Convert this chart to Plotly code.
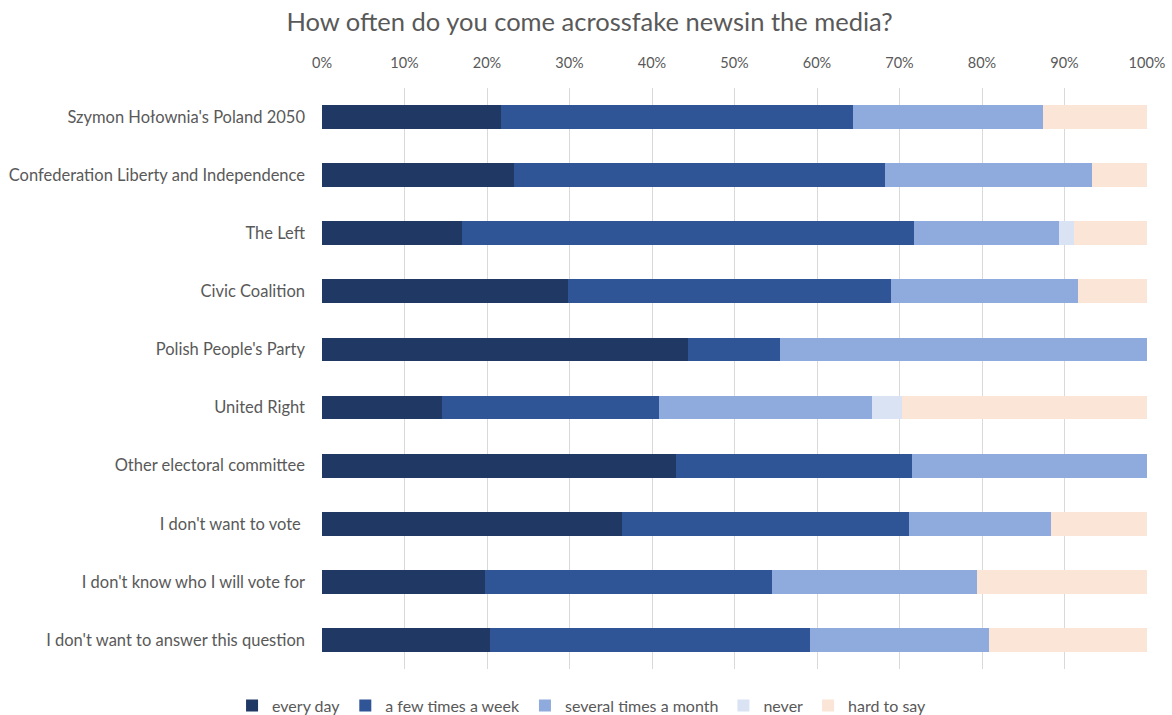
import plotly.graph_objects as go

categories = [
    "Szymon Hołownia's Poland 2050",
    "Confederation Liberty and Independence",
    "The Left",
    "Civic Coalition",
    "Polish People's Party",
    "United Right",
    "Other electoral committee",
    "I don't want to vote ",
    "I don't know who I will vote for",
    "I don't want to answer this question",
]

every_day = [21.7, 23.3, 17.0, 29.8, 44.4, 14.6, 42.9, 36.4, 19.7, 20.4]
few_times_week = [42.7, 45.0, 54.8, 39.2, 11.1, 26.2, 28.6, 34.8, 34.8, 38.7]
several_times_month = [23.0, 25.0, 17.5, 22.6, 44.5, 25.9, 28.5, 17.2, 24.9, 21.8]
never = [0.0, 0.0, 1.9, 0.0, 0.0, 3.6, 0.0, 0.0, 0.0, 0.0]
hard_to_say = [12.6, 6.7, 8.8, 8.4, 0.0, 29.7, 0.0, 11.6, 20.6, 19.1]

series = [
    ("every day", every_day, "#203864"),
    ("a few times a week", few_times_week, "#2F5597"),
    ("several times a month", several_times_month, "#8FAADC"),
    ("never", never, "#DAE3F3"),
    ("hard to say", hard_to_say, "#FBE5D6"),
]

fig = go.Figure()
for name, vals, color in series:
    fig.add_trace(go.Bar(
        y=categories, x=[v / 100 for v in vals], name=name, orientation="h",
        marker=dict(color=color, line=dict(width=0)),
    ))

font_family = "Lato, Open Sans, Liberation Sans, sans-serif"
fig.update_layout(
    barmode="stack",
    bargap=0.59,
    width=1172, height=715,
    margin=dict(l=322, r=25, t=88, b=46, autoexpand=False),
    paper_bgcolor="white", plot_bgcolor="white",
    font=dict(family=font_family, color="#595959"),
    title=dict(
        text="How often do you come acrossfake newsin the media?",
        x=0.503, xanchor="center", y=0.969, yanchor="middle",
        font=dict(size=25.5, color="#595959", family=font_family),
    ),
    xaxis=dict(
        side="top", range=[0, 1], dtick=0.1, tickformat=".0%",
        showgrid=True, gridcolor="#D9D9D9", gridwidth=1,
        zeroline=False, showline=False, ticks="",
        tickfont=dict(size=14.5, color="#595959"),
        ticklabelstandoff=16, automargin=False,
        fixedrange=True,
    ),
    yaxis=dict(
        autorange="reversed", showgrid=False, showline=False, ticks="",
        tickfont=dict(size=16.5, color="#595959"),
        ticklabelstandoff=16, automargin=False,
    ),
    legend=dict(
        orientation="h", xref="container", x=0.198, xanchor="left",
        yref="container", y=0.013, yanchor="middle",
        font=dict(size=16, color="#595959"),
        traceorder="normal",
    ),
)

fig.write_html("out.html")
